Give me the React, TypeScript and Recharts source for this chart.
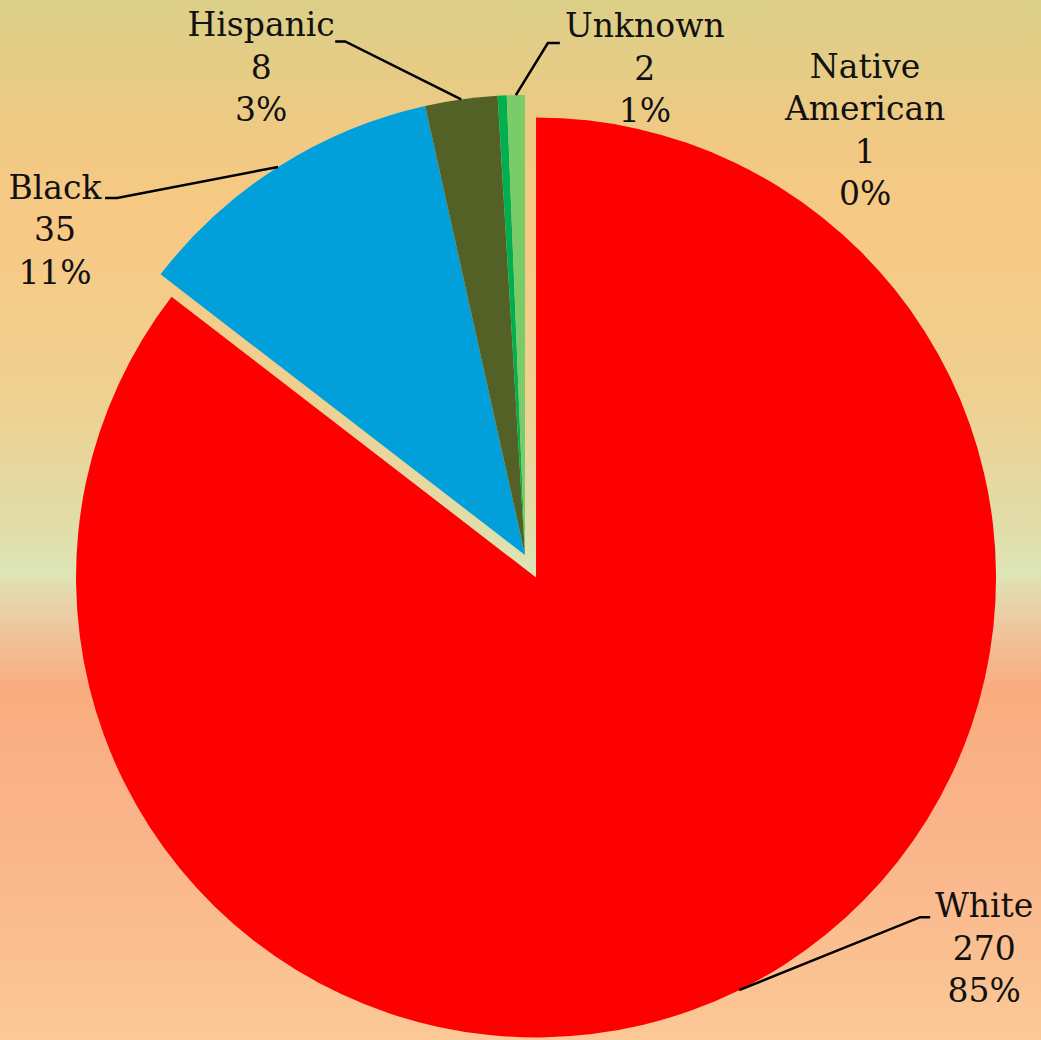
import { PieChart, Pie, Cell } from 'recharts';

const categories = ['White', 'Black', 'Hispanic', 'Native American', 'Unknown'];
const counts = [270, 35, 8, 1, 2];
const colors = ['#ff0000', '#01a0db', '#536127', '#00b050', '#7acc68'];

// label placement, relative to the point where the leader touches the slice
const labelLayout: Record<string, { elbow: [number, number]; end: number; text: [number, number]; line: boolean }> = {
  White: { elbow: [181, -73], end: 10, text: [64, 0], line: true },
  Black: { elbow: [-161, 31], end: -12, text: [-62, 1], line: true },
  Hispanic: { elbow: [-116, -58], end: -10, text: [-84, -5], line: true },
  Unknown: { elbow: [32, -52], end: 12, text: [97, -6], line: true },
  'Native American': { elbow: [0, 0], end: 0, text: [363, -18], line: false }
};

const data = categories.map((name, i) => ({ name, value: counts[i] }));
const total = counts.reduce((a, b) => a + b, 0);

const RAD = Math.PI / 180;
const CX = 525;
const CY = 555;
const R = 460;
const EXPLODE = 25;
const START = 90;
const END = -270;

// middle angle of the exploded slice (White, first entry)
const whiteMid = START + (END - START) * (counts[0] / total) / 2;
const whiteCx = CX + EXPLODE * Math.cos(whiteMid * RAD);
const whiteCy = CY - EXPLODE * Math.sin(whiteMid * RAD);

const FONT = "'DejaVu Serif', 'Liberation Serif', serif";
const LINE_H = 42.5;

function makeLabel(show: (name: string) => boolean) {
  return (props: any) => {
    const { cx, cy, midAngle, outerRadius, name, value, index } = props;
    if (!show(name)) return null;
    const lay = labelLayout[name];
    const px = cx + outerRadius * Math.cos(-midAngle * RAD);
    const py = cy + outerRadius * Math.sin(-midAngle * RAD);
    const ex = px + lay.elbow[0];
    const ey = py + lay.elbow[1];
    const tx = ex + lay.text[0];
    const ty = ey + lay.text[1];
    const pct = Math.round((value / total) * 100);
    const lines = [...name.split(' '), String(value), `${pct}%`];
    return (
      <g key={`lbl-${index}`}>
        {lay.line && (
          <polyline
            points={`${px},${py} ${ex},${ey} ${ex + lay.end},${ey}`}
            fill="none"
            stroke="#000"
            strokeWidth={2.5}
          />
        )}
        <text x={tx} y={ty} textAnchor="middle" style={{ fontFamily: FONT, fontSize: 33 }} fill="#111">
          {lines.map((l, i) => (
            <tspan key={i} x={tx} y={ty + i * LINE_H}>
              {l}
            </tspan>
          ))}
        </text>
      </g>
    );
  };
}

export default function App() {
  return (
    <div
      style={{
        position: 'absolute',
        left: 0,
        top: 0,
        width: 1041,
        height: 1040,
        background:
          'linear-gradient(to bottom, #dccf88 0%, #f1c983 14%, #f7c984 22%, #efd090 38%, #e2dca8 50%, #dde5b6 55%, #eec8a0 60%, #f9ac80 66%, #fab489 80%, #fbc896 100%)'
      }}
    >
      <PieChart width={1041} height={1040} margin={{ top: 0, right: 0, bottom: 0, left: 0 }}>
        <Pie
          data={data}
          dataKey="value"
          nameKey="name"
          cx={CX}
          cy={CY}
          outerRadius={R}
          startAngle={START}
          endAngle={END}
          stroke="none"
          isAnimationActive={false}
          labelLine={false}
          label={makeLabel((n) => n !== 'White')}
        >
          {data.map((d, i) => (
            <Cell key={`c-${i}`} fill={d.name === 'White' ? 'transparent' : colors[i]} />
          ))}
        </Pie>
        <Pie
          data={data}
          dataKey="value"
          nameKey="name"
          cx={whiteCx}
          cy={whiteCy}
          outerRadius={R}
          startAngle={START}
          endAngle={END}
          stroke="none"
          isAnimationActive={false}
          labelLine={false}
          label={makeLabel((n) => n === 'White')}
        >
          {data.map((d, i) => (
            <Cell key={`w-${i}`} fill={d.name === 'White' ? colors[i] : 'transparent'} />
          ))}
        </Pie>
      </PieChart>
    </div>
  );
}
